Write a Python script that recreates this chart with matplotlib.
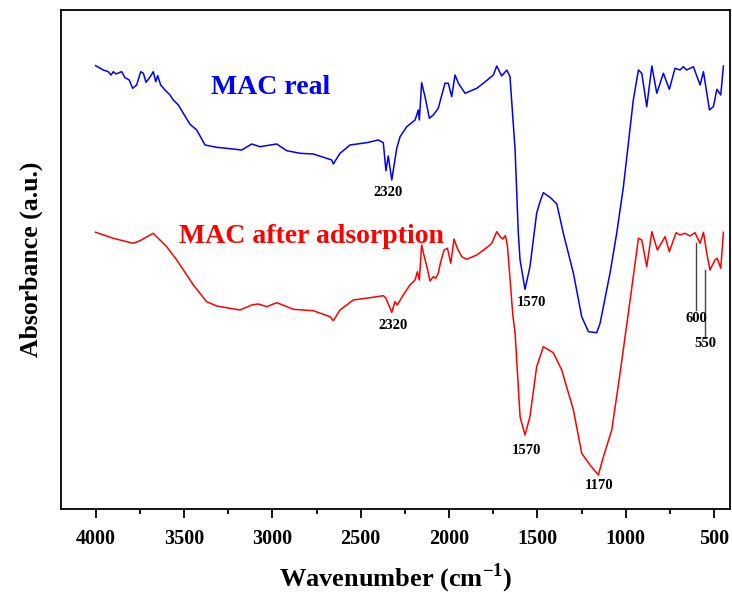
import numpy as np
import matplotlib
matplotlib.use("Agg")
import matplotlib.pyplot as plt

plt.rcParams["font.family"] = ["Liberation Serif", "DejaVu Serif"]
plt.rcParams["font.weight"] = "bold"
plt.rcParams["mathtext.fontset"] = "custom"
plt.rcParams["mathtext.rm"] = "Liberation Serif:bold"
plt.rcParams["mathtext.bf"] = "Liberation Serif:bold"

# FTIR spectrum, MAC before adsorption (wavenumber cm-1, absorbance a.u.)
wn_real = [4000, 3957, 3929, 3913, 3900, 3885, 3853, 3834, 3810, 3791,
           3768, 3745, 3730, 3715, 3697, 3674, 3660, 3649, 3632, 3608,
           3579, 3561, 3532, 3504, 3466, 3428, 3381, 3315, 3173, 3117,
           3070, 2975, 2919, 2843, 2768, 2664, 2655, 2617, 2560, 2466,
           2400, 2372, 2357, 2344, 2324, 2296, 2277, 2239, 2192, 2174,
           2168, 2155, 2136, 2111, 2089, 2061, 2023, 2004, 1985, 1966,
           1947, 1909, 1843, 1806, 1749, 1730, 1702, 1673, 1655, 1626,
           1608, 1598, 1570, 1542, 1504, 1485, 1466, 1428, 1390, 1353,
           1296, 1249, 1211, 1164, 1145, 1089, 1051, 1013, 957, 928,
           909, 881, 852, 824, 787, 753, 721, 692, 674, 655,
           617, 579, 560, 526, 504, 484, 462, 447]
abs_real = [443.3, 439, 437.3, 434, 437.3, 435, 437.3, 431.3, 429, 420.7,
            424, 437.3, 435.7, 426.7, 430.7, 437.3, 427.3, 433.3, 424, 419,
            414, 409, 404, 395.7, 384.7, 379, 364, 361.7, 359, 365,
            362.3, 365, 358.3, 355.7, 355, 349, 345, 355.7, 364, 366.3,
            369, 366.3, 338.3, 353, 329, 360.7, 372.3, 382.3, 389, 399,
            389, 426.3, 412.3, 390.7, 394, 400.7, 425.7, 425.7, 412.3, 434,
            425.7, 415.7, 420.7, 425.7, 434, 443, 433, 439, 432.3, 359,
            276, 249, 219.7, 242.3, 295.7, 307.3, 316.3, 311.7, 305, 275.7,
            235.7, 192.3, 177.3, 176.3, 185.7, 235.7, 275.7, 322.3, 409, 439,
            435.7, 402.3, 443, 415.7, 435.7, 419.7, 440.7, 439, 442.3, 439,
            442.3, 424, 437.3, 399, 402.3, 419.7, 414, 443]

# FTIR spectrum, MAC after adsorption
wn_ads = [4000, 3900, 3787, 3749, 3702, 3674, 3646, 3598, 3541, 3447,
          3372, 3315, 3183, 3117, 3080, 3032, 2975, 2881, 2768, 2674,
          2655, 2617, 2542, 2447, 2372, 2357, 2324, 2306, 2293, 2259,
          2221, 2192, 2179, 2168, 2155, 2140, 2123, 2108, 2089, 2075,
          2061, 2047, 2028, 2009, 1990, 1972, 1953, 1928, 1900, 1843,
          1787, 1758, 1730, 1711, 1696, 1681, 1670, 1655, 1639, 1626,
          1598, 1570, 1542, 1504, 1466, 1410, 1362, 1296, 1249, 1202,
          1155, 1126, 1079, 1032, 975, 928, 909, 881, 852, 821,
          777, 753, 715, 692, 664, 636, 608, 579, 560, 541,
          523, 495, 482, 462, 447]
abs_ads = [276.7, 270.7, 265.7, 268.3, 273, 275.7, 270.7, 262.3, 249, 224,
           207.3, 203, 199, 204, 205, 202.3, 206.3, 199.7, 198.3, 192.3,
           188.3, 199, 209, 211.3, 213.3, 210.7, 196.7, 207.3, 204, 214,
           224, 229, 237.3, 229, 264, 252.3, 240.7, 228, 232.3, 230.7,
           235.7, 247.3, 259, 260.7, 245.7, 270, 260.7, 252.3, 249.7, 254,
           261.3, 265.7, 277.3, 272.3, 270, 273.3, 264, 230.7, 194, 175.7,
           92.3, 74, 92.3, 142.3, 162.3, 156.3, 139, 99, 55.7, 44,
           34, 52.3, 79, 135.7, 209, 270.7, 269, 242.3, 277.3, 259,
           272.3, 257.3, 276.3, 274, 275.7, 273, 276.3, 265.7, 276.7, 255.7,
           239, 249, 250.7, 240.7, 276.7]

# band labels: (text, wavenumber, height)
band_labels = [("2320", 2345, 316),
               ("2320", 2316, 183),
               ("1570", 1533, 206),
               ("1570", 1560, 58),
               ("1170", 1153, 23)]

# small bands marked with a leader line: (wavenumber, top of line, bottom of line, label y)
marked_bands = [(600, 266, 199, 190), (550, 239, 172, 165)]

fig = plt.figure(figsize=(7.32, 5.94), dpi=100)
ax = fig.add_axes([0.0829, 0.1431, 0.9143, 0.8401])

ax.plot(wn_real, abs_real, color="#0000ff", lw=1.1)
ax.plot(wn_ads, abs_ads, color="#ff0000", lw=1.1)

for txt, x, y in band_labels:
    ax.text(x, y, txt, ha="center", va="center", fontsize=10.5,
            fontweight="bold")

for x, y_top, y_bot, y_lbl in marked_bands:
    ax.plot([x, x], [y_top, y_bot], color="#444444", lw=1.0)
    ax.text(x, y_lbl, str(x), ha="center", va="center", fontsize=10.5,
            fontweight="bold")

ax.text(3008, 421, "MAC real", ha="center", va="center", fontsize=20,
        fontweight="bold", color="#0000ff")
ax.text(2780, 272, "MAC after adsorption", ha="center", va="center",
        fontsize=20, fontweight="bold", color="#ff0000")

ax.set_xlim(4198, 410)
ax.set_ylim(0, 499)
ax.set_xticks(np.arange(4000, 499, -500))
ax.set_xticks(np.arange(3750, 499, -500), minor=True)
ax.set_yticks([])
ax.tick_params(axis="x", which="major", direction="out", length=6.5,
               width=1.3, labelsize=14.5, pad=8)
ax.tick_params(axis="x", which="minor", direction="out", length=3.5,
               width=1.3)
for lbl in ax.get_xticklabels():
    lbl.set_fontweight("bold")
for sp in ax.spines.values():
    sp.set_linewidth(1.3)

ax.set_xlabel(r"Wavenumber (cm$^{\mathbf{-1}}$)", fontsize=19,
              fontweight="bold", labelpad=9)
ax.set_ylabel("Absorbance (a.u.)", fontsize=18.5, fontweight="bold",
              labelpad=13)

fig.savefig("out.png", dpi=100)
